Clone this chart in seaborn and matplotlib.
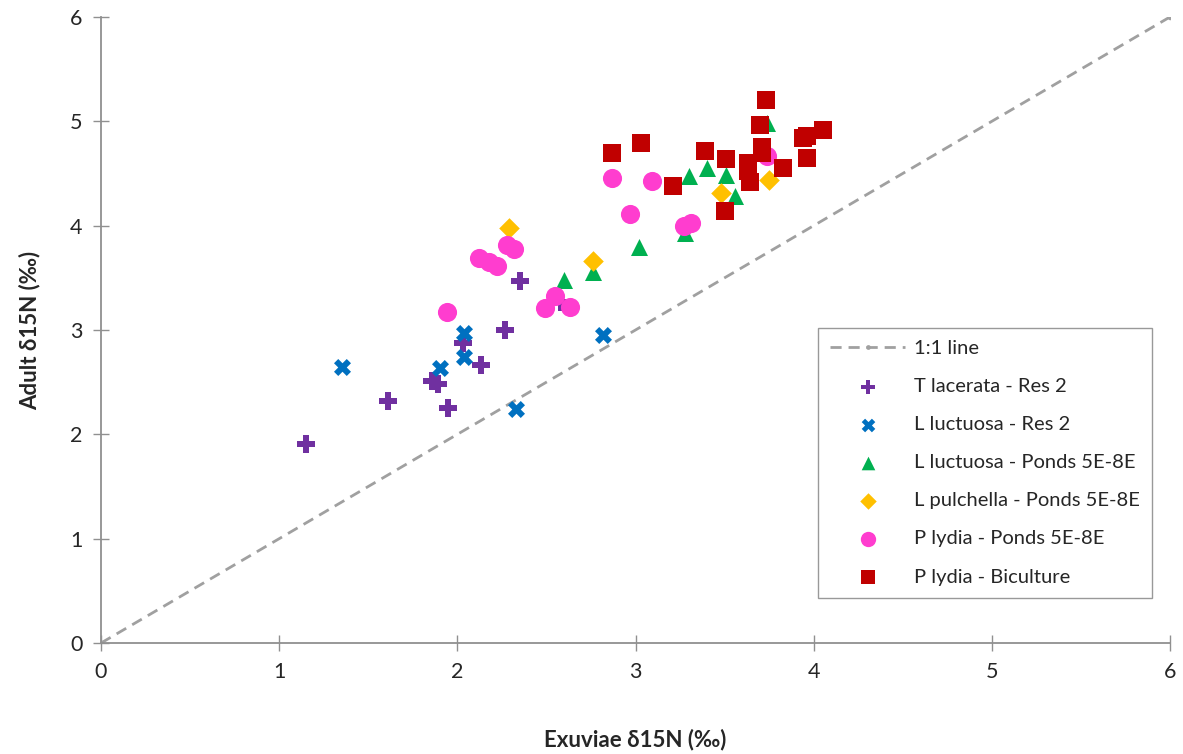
import matplotlib
matplotlib.use("Agg")
import matplotlib.pyplot as plt
import pandas as pd
import seaborn as sns

# exuviae (x) and adult (y) d15N per group
t_lacerata_x = [1.15, 1.61, 1.86, 1.89, 1.95, 2.13, 2.03, 2.27, 2.35, 2.58]
t_lacerata_y = [1.91, 2.32, 2.51, 2.48, 2.25, 2.66, 2.88, 3.00, 3.47, 3.27]

l_luct_res_x = [1.35, 1.90, 2.04, 2.04, 2.33, 2.82]
l_luct_res_y = [2.65, 2.64, 2.97, 2.74, 2.24, 2.95]

l_luct_ponds_x = [2.60, 2.76, 3.02, 3.28, 3.30, 3.40, 3.51, 3.56, 3.74]
l_luct_ponds_y = [3.48, 3.56, 3.80, 3.93, 4.48, 4.55, 4.49, 4.28, 4.98]

l_pulch_x = [2.29, 2.76, 3.48, 3.75]
l_pulch_y = [3.98, 3.66, 4.31, 4.44]

p_lydia_ponds_x = [1.94, 2.12, 2.18, 2.22, 2.28, 2.32, 2.49, 2.55, 2.63,
                   2.87, 2.97, 3.09, 3.27, 3.31, 3.74]
p_lydia_ponds_y = [3.17, 3.69, 3.65, 3.61, 3.81, 3.78, 3.21, 3.33, 3.22,
                   4.46, 4.11, 4.43, 4.00, 4.03, 4.67]

p_lydia_bic_x = [2.87, 3.03, 3.21, 3.39, 3.51, 3.50, 3.63, 3.63, 3.64, 3.71,
                 3.71, 3.70, 3.73, 3.83, 3.94, 3.96, 3.96, 4.05]
p_lydia_bic_y = [4.70, 4.79, 4.38, 4.72, 4.64, 4.14, 4.60, 4.52, 4.42, 4.75,
                 4.70, 4.96, 5.20, 4.55, 4.84, 4.86, 4.65, 4.92]

group_names = ["T lacerata - Res 2", "L luctuosa - Res 2", "L luctuosa - Ponds 5E-8E",
               "L pulchella - Ponds 5E-8E", "P lydia - Ponds 5E-8E", "P lydia - Biculture"]
group_colors = ["#7030A0", "#0070C0", "#00B050", "#FFC000", "#FF3DCF", "#C00000"]
group_markers = ["P", "X", "^", "D", "o", "s"]
group_sizes = [150, 150, 150, 110, 190, 150]

one_to_one = [0, 6]

xs = [t_lacerata_x, l_luct_res_x, l_luct_ponds_x, l_pulch_x, p_lydia_ponds_x, p_lydia_bic_x]
ys = [t_lacerata_y, l_luct_res_y, l_luct_ponds_y, l_pulch_y, p_lydia_ponds_y, p_lydia_bic_y]
df = pd.concat([pd.DataFrame({"exuviae": x, "adult": y, "group": g})
                for x, y, g in zip(xs, ys, group_names)], ignore_index=True)

sns.set_style("white")
plt.rcParams["font.family"] = ["Lato", "DejaVu Sans"]

fig = plt.figure(figsize=(11.83, 7.54), dpi=100)
ax = fig.add_axes([0.0854, 0.1472, 0.9036, 0.8303])

ax.plot(one_to_one, one_to_one, color="#A0A0A0", linestyle=(0, (4, 2.5)), linewidth=2,
        marker="o", markersize=3, label="1:1 line", zorder=1)

for g, c, m, s in zip(group_names, group_colors, group_markers, group_sizes):
    sns.scatterplot(data=df[df["group"] == g], x="exuviae", y="adult", color=c, marker=m,
                    s=s, linewidth=0, label=g, ax=ax, zorder=3)

ax.set_xlim(0, 6)
ax.set_ylim(0, 6)
ax.set_xticks(range(7))
ax.set_yticks(range(7))
ax.tick_params(axis="both", direction="inout", length=11, width=1, color="#909090",
               labelsize=15.5, pad=8, left=True, bottom=True)
for side in ["top", "right"]:
    ax.spines[side].set_visible(False)
for side in ["left", "bottom"]:
    ax.spines[side].set_color("#909090")
    ax.spines[side].set_linewidth(1.3)

ax.set_xlabel("Exuviae δ15N (‰)", fontsize=16, fontweight="bold", labelpad=34)
ax.set_ylabel("Adult δ15N (‰)", fontsize=16, fontweight="bold", labelpad=21)

handles, labels = ax.get_legend_handles_labels()
leg = ax.legend(handles, labels, loc="upper left", bbox_to_anchor=(0.671, 0.503),
                fontsize=14.5, frameon=True, fancybox=False, edgecolor="#808080",
                handlelength=3.7, handletextpad=0.45, labelspacing=1.04, borderpad=0.6,
                markerscale=0.8, borderaxespad=0)
leg.get_frame().set_linewidth(1)

fig.savefig("out.png", dpi=100)
